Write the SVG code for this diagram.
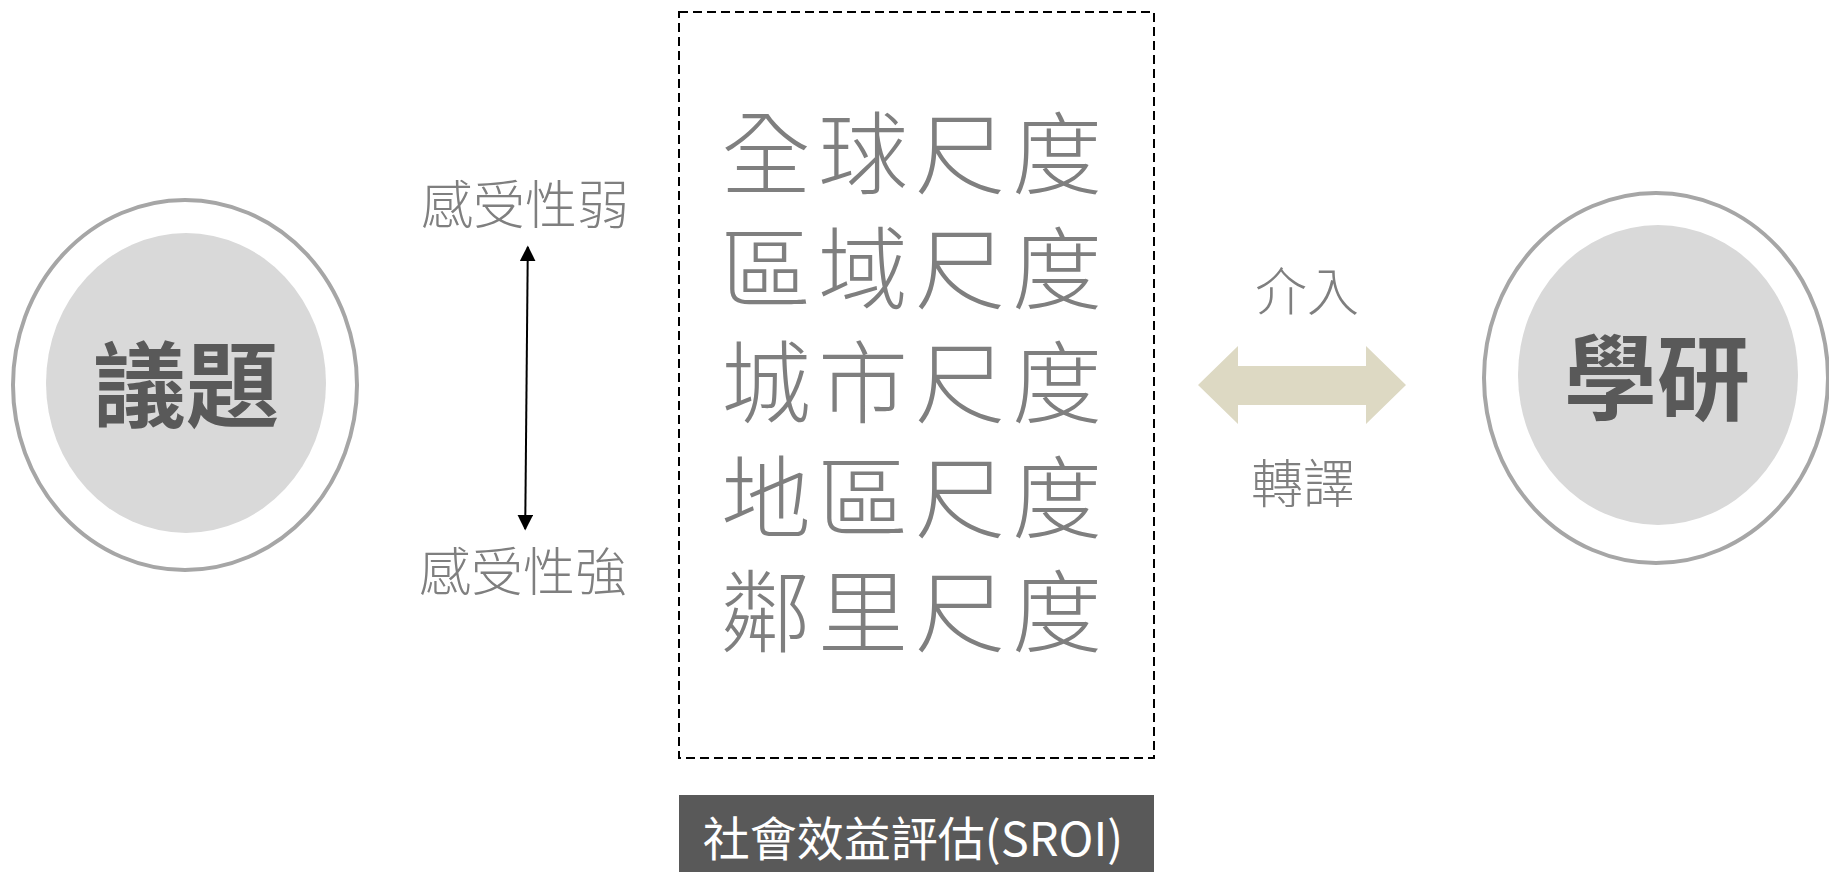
<svg xmlns="http://www.w3.org/2000/svg" width="1829" height="872" viewBox="0 0 1829 872">
<defs>
<style>
.outer{fill:#ffffff;stroke:#a6a6a6;stroke-width:4}
.inner{fill:#d9d9d9}
.big{font-family:"Noto Sans CJK TC","Noto Sans CJK SC",sans-serif;font-weight:700;font-size:93px;fill:#595959;text-anchor:middle;dominant-baseline:central}
.scale{font-family:"Noto Sans CJK TC","Noto Sans CJK SC",sans-serif;font-weight:300;font-size:90px;letter-spacing:7px;fill:#7f7f7f;text-anchor:middle;dominant-baseline:central}
.lbl{font-family:"Noto Sans CJK TC","Noto Sans CJK SC",sans-serif;font-weight:300;font-size:52px;fill:#7f7f7f;text-anchor:middle;dominant-baseline:central}
.sroi{font-family:"Noto Sans CJK TC","Noto Sans CJK SC",sans-serif;font-size:47px;fill:#ffffff;text-anchor:middle;dominant-baseline:central}
</style>
<marker id="ah" viewBox="0 0 10 10" refX="9" refY="5" markerWidth="8" markerHeight="8" markerUnits="strokeWidth" orient="auto-start-reverse">
<path d="M0,0 L10,5 L0,10 z" fill="#000000"/>
</marker>
</defs>
<rect width="1829" height="872" fill="#ffffff"/>

<g id="node-issue">
<ellipse class="outer" cx="185" cy="385" rx="172" ry="185"/>
<ellipse class="inner" cx="186" cy="383" rx="140" ry="150"/>
<text class="big" x="186" y="379">議題</text>
</g>

<g id="node-academia">
<ellipse class="outer" cx="1656" cy="378" rx="172" ry="185"/>
<ellipse class="inner" cx="1658" cy="375" rx="140" ry="150"/>
<text class="big" x="1657" y="372">學研</text>
</g>

<g id="node-scales">
<rect x="679" y="12" width="475" height="746" fill="none" stroke="#000000" stroke-width="2" stroke-dasharray="9 5"/>
<text class="scale" x="915" y="148">全球尺度</text>
<text class="scale" x="915" y="263">區域尺度</text>
<text class="scale" x="915" y="377">城市尺度</text>
<text class="scale" x="915" y="492">地區尺度</text>
<text class="scale" x="915" y="606">鄰里尺度</text>
</g>

<g id="node-sroi">
<rect x="679" y="795" width="475" height="77" fill="#595959"/>
<text class="sroi" x="913" y="835">社會效益評估(SROI)</text>
</g>

<g id="label-weak"><text class="lbl" x="525" y="201">感受性弱</text></g>
<g id="label-strong"><text class="lbl" x="523" y="568">感受性強</text></g>
<g id="label-intervene"><text class="lbl" x="1307" y="288">介入</text></g>
<g id="label-translate"><text class="lbl" x="1303" y="480">轉譯</text></g>

<g id="connectors">
<line x1="527.8" y1="247" x2="525.2" y2="529" stroke="#000000" stroke-width="2" marker-start="url(#ah)" marker-end="url(#ah)"/>
<polygon points="1198,385 1238,346 1238,366 1366,366 1366,346 1406,385 1366,424 1366,405 1238,405 1238,424" fill="#ddd9c3"/>
</g>
</svg>
